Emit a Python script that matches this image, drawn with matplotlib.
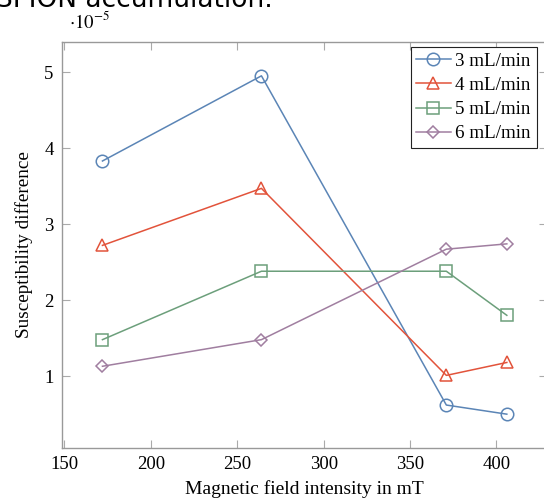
import numpy as np
import matplotlib.pyplot as plt

plt.rcParams['font.family'] = ['Liberation Serif', 'DejaVu Serif']
plt.rcParams['mathtext.fontset'] = 'stix'

# data (susceptibility difference in 1e-5)
field = [172, 264, 371, 406]
s3 = [3.83, 4.95, 0.62, 0.50]
s4 = [2.72, 3.47, 1.01, 1.18]
s5 = [1.48, 2.38, 2.38, 1.80]
s6 = [1.13, 1.48, 2.67, 2.74]
labels = ['3 mL/min', '4 mL/min', '5 mL/min', '6 mL/min']
colors = ['#5b85b6', '#e2533b', '#6c9f7b', '#a07ea0']
markers = ['o', '^', 's', 'D']
msizes = [9, 8, 8.5, 6.5]

fig = plt.figure(figsize=(5.44, 5.0), dpi=100)
ax = fig.add_axes([0.114, 0.104, 0.892, 0.812])

for s, lab, c, m, ms in zip([s3, s4, s5, s6], labels, colors, markers, msizes):
    ax.plot(field, s, color=c, marker=m, ms=ms, mfc='none', mec=c, mew=1.1,
            lw=1.1, label=lab)

ax.set_xlim(148.6, 429.4)
ax.set_ylim(0.055, 5.395)
ax.set_xticks([150, 200, 250, 300, 350, 400])
ax.set_yticks([1, 2, 3, 4, 5])
ax.tick_params(direction='in', top=True, right=True, length=6, width=0.8,
               color='#aaaaaa', labelsize=13.5, pad=6)
for sp in ax.spines.values():
    sp.set_color('#999999')
    sp.set_linewidth(1.0)

ax.set_xlabel('Magnetic field intensity in mT', fontsize=14, labelpad=5)
ax.set_ylabel('Susceptibility difference', fontsize=13.8, labelpad=8)

leg = ax.legend(loc='upper right', bbox_to_anchor=(0.978, 0.988), fontsize=13.7,
                handlelength=1.8, handletextpad=0.25, labelspacing=0.36,
                borderpad=0.3, borderaxespad=0, fancybox=False, framealpha=1)
leg.get_frame().set_edgecolor('#222222')
leg.get_frame().set_linewidth(0.8)

fig.text(0.126, 0.944, r'$\cdot 10^{-5}$', fontsize=13.5, va='baseline')
fig.text(-0.007, 0.986, 'SPION accumulation.', fontsize=19, family='DejaVu Sans',
         va='baseline')

fig.savefig('out.png', dpi=100)
